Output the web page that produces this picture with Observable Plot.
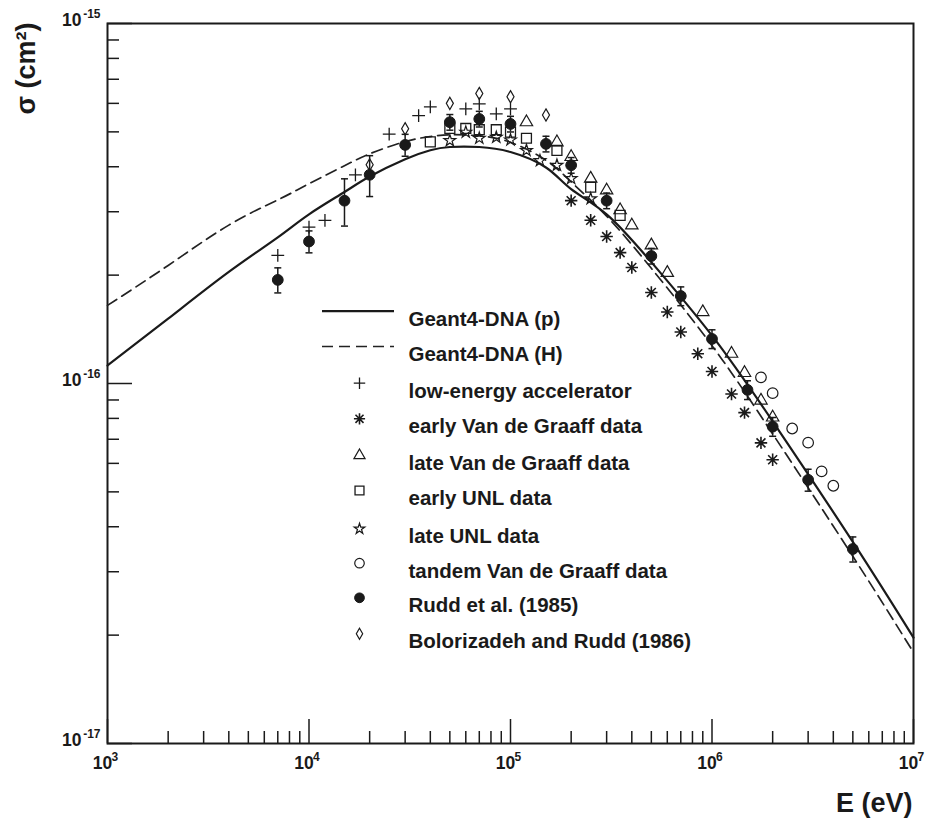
<!DOCTYPE html>
<html><head><meta charset="utf-8">
<script src="https://cdn.jsdelivr.net/npm/d3@7"></script>
<script src="https://cdn.jsdelivr.net/npm/@observablehq/plot@0.6"></script>
<style>
body{margin:0;background:#fff;}
#chart{width:927px;height:825px;}
</style></head><body><div id="chart"></div>
<script>
// ---- Model curves (Geant4-DNA) ----
const geantE = [1e3, 2e3, 4e3, 7e3, 1e4, 1.5e4, 2e4, 3e4, 4e4, 5e4, 7e4, 1e5, 1.5e5, 2e5, 3e5, 5e5, 1e6, 2e6, 5e6, 1e7];
const geantP = [1.122e-16, 1.514e-16, 2.042e-16, 2.547e-16, 2.951e-16, 3.404e-16, 3.758e-16, 4.198e-16, 4.446e-16, 4.539e-16, 4.539e-16, 4.395e-16, 3.981e-16, 3.467e-16, 2.951e-16, 2.173e-16, 1.358e-16, 7.85e-17, 3.63e-17, 1.968e-17];
const geantH = [1.648e-16, 2.128e-16, 2.754e-16, 3.236e-16, 3.589e-16, 4.027e-16, 4.345e-16, 4.699e-16, 4.853e-16, 4.909e-16, 4.875e-16, 4.677e-16, 4.169e-16, 3.631e-16, 2.917e-16, 2.089e-16, 1.274e-16, 7.244e-17, 3.311e-17, 1.791e-17];

// ---- Experimental data ----
const lowAccE = [7e3, 1e4, 1.2e4, 1.7e4, 2.5e4, 3.5e4, 4e4, 6e4, 7e4, 8.5e4, 1e5];
const lowAccS = [2.27e-16, 2.72e-16, 2.84e-16, 3.80e-16, 4.93e-16, 5.55e-16, 5.87e-16, 5.79e-16, 5.98e-16, 5.61e-16, 5.79e-16];

const earlyVdgE = [2e5, 2.5e5, 3e5, 3.5e5, 4e5, 5e5, 6e5, 7e5, 8.5e5, 1e6, 1.25e6, 1.45e6, 1.75e6, 2e6];
const earlyVdgS = [3.22e-16, 2.84e-16, 2.56e-16, 2.31e-16, 2.10e-16, 1.79e-16, 1.58e-16, 1.39e-16, 1.21e-16, 1.08e-16, 9.35e-17, 8.30e-17, 6.84e-17, 6.14e-17];

const lateVdgE = [1.2e5, 1.7e5, 2e5, 2.5e5, 3e5, 3.5e5, 4e5, 5e5, 6e5, 9e5, 1.25e6, 1.45e6, 1.75e6, 2e6];
const lateVdgS = [5.32e-16, 4.68e-16, 4.26e-16, 3.71e-16, 3.44e-16, 3.03e-16, 2.75e-16, 2.42e-16, 2.03e-16, 1.58e-16, 1.21e-16, 1.07e-16, 8.97e-17, 8.05e-17];

const earlyUnlE = [4e4, 5e4, 6e4, 7e4, 8.5e4, 1e5, 1.2e5, 1.7e5, 2.5e5, 3.5e5];
const earlyUnlS = [4.69e-16, 5.11e-16, 5.11e-16, 5.07e-16, 5.07e-16, 4.99e-16, 4.80e-16, 4.44e-16, 3.51e-16, 2.93e-16];

const lateUnlE = [5e4, 6e4, 7e4, 8.5e4, 1e5, 1.2e5, 1.4e5, 1.7e5, 2e5, 2.5e5];
const lateUnlS = [4.73e-16, 4.99e-16, 4.80e-16, 4.83e-16, 4.75e-16, 4.44e-16, 4.16e-16, 4.04e-16, 3.71e-16, 3.26e-16];

const tandemE = [1.75e6, 2e6, 2.5e6, 3e6, 3.5e6, 4e6];
const tandemS = [1.04e-16, 9.4e-17, 7.5e-17, 6.85e-17, 5.7e-17, 5.2e-17];

const ruddE = [7e3, 1e4, 1.5e4, 2e4, 3e4, 5e4, 7e4, 1e5, 1.5e5, 2e5, 3e5, 5e5, 7e5, 1e6, 1.5e6, 2e6, 3e6, 5e6];
const ruddS = [1.94e-16, 2.48e-16, 3.22e-16, 3.80e-16, 4.60e-16, 5.32e-16, 5.43e-16, 5.26e-16, 4.63e-16, 4.04e-16, 3.22e-16, 2.26e-16, 1.75e-16, 1.33e-16, 9.6e-17, 7.59e-17, 5.4e-17, 3.47e-17];
const ruddErr = [0.08, 0.07, 0.15, 0.13, 0.07, 0.05, 0.05, 0.05, 0.05, 0.05, 0.05, 0.05, 0.06, 0.06, 0.06, 0.06, 0.07, 0.08];

const boloE = [2e4, 3e4, 5e4, 7e4, 1e5, 1.5e5];
const boloS = [4.05e-16, 5.1e-16, 6.0e-16, 6.39e-16, 6.26e-16, 5.57e-16];

// ---- Labels ----
const legendLabels = ["Geant4-DNA (p)", "Geant4-DNA (H)", "low-energy accelerator", "early Van de Graaff data",
  "late Van de Graaff data", "early UNL data", "late UNL data", "tandem Van de Graaff data",
  "Rudd et al. (1985)", "Bolorizadeh and Rudd (1986)"];
const xTickExp = [3, 4, 5, 6, 7];
const yTickExp = [-17, -16, -15];
const xTitle = "E (eV)";
const yTitle = "σ (cm²)";

// ---- Build tables ----
const rows = (E, S) => E.map((e, i) => ({E: e, s: S[i]}));
const geantRows = geantE.map((e, i) => ({E: e, p: geantP[i], h: geantH[i]}));
const ruddRows = ruddE.map((e, i) => ({E: e, s: ruddS[i], lo: ruddS[i] * (1 - ruddErr[i]), hi: ruddS[i] * (1 + ruddErr[i])}));

const minorTicks = (lo, hi) => { const out = []; for (let k = lo; k < hi; k++) for (let m = 2; m <= 9; m++) out.push(m * Math.pow(10, k)); return out; };

// custom symbols
const asterisk8 = {draw(ctx, size) {
  const r = Math.sqrt(size / Math.PI), d = r * 0.72;
  ctx.moveTo(0, -r); ctx.lineTo(0, r);
  ctx.moveTo(-r, 0); ctx.lineTo(r, 0);
  ctx.moveTo(-d, -d); ctx.lineTo(d, d);
  ctx.moveTo(-d, d); ctx.lineTo(d, -d);
}};
const cap = {draw(ctx, size) { const r = Math.sqrt(size / Math.PI); ctx.moveTo(-r, 0); ctx.lineTo(r, 0); }};
const hline = {draw(ctx, size) { ctx.moveTo(-36, 0); ctx.lineTo(36, 0); }};

const W = 927, H = 825, mL = 107, mR = 14, mT = 23, mB = 82;
const pW = W - mL - mR, pH = H - mT - mB;
const ink = "#1a1a1a";

const styles = [
  {symbol: "plus", r: 4.2, fill: "none", strokeWidth: 1.3},
  {symbol: asterisk8, r: 6.2, fill: "none", strokeWidth: 1.6},
  {symbol: "triangle", r: 4.6, fill: "none", strokeWidth: 1.2},
  {symbol: "square", r: 5.6, fill: "none", strokeWidth: 1.3},
  {symbol: "star", r: 3.7, fill: "none", strokeWidth: 1.2},
  {symbol: "circle", r: 5.3, fill: "none", strokeWidth: 1.2},
  {symbol: "circle", r: 5.4, fill: ink, strokeWidth: 1},
  {symbol: "diamond", r: 3.7, fill: "none", strokeWidth: 1.2}
];
const pointSets = [rows(lowAccE, lowAccS), rows(earlyVdgE, earlyVdgS), rows(lateVdgE, lateVdgS), rows(earlyUnlE, earlyUnlS),
  rows(lateUnlE, lateUnlS), rows(tandemE, tandemS), ruddRows, rows(boloE, boloS)];

const legendRowY = [310.7, 346, 382.7, 418.3, 455, 490, 528.3, 562.7, 597.3, 633.3];
const fontFam = "'Liberation Sans', Arial, Helvetica, sans-serif";

const marks = [
  Plot.frame({stroke: ink, strokeWidth: 2}),
  // ticks (inside)
  Plot.ruleX(minorTicks(3, 7), {x: d => d, insetTop: pH - 12, stroke: ink, strokeWidth: 1.5}),
  Plot.ruleX(xTickExp.map(k => Math.pow(10, k)), {x: d => d, insetTop: pH - 24, stroke: ink, strokeWidth: 1.5}),
  Plot.ruleY(minorTicks(-17, -15), {y: d => d, insetRight: pW - 12, stroke: ink, strokeWidth: 1.5}),
  Plot.ruleY(yTickExp.map(k => Math.pow(10, k)), {y: d => d, insetRight: pW - 25, stroke: ink, strokeWidth: 1.5}),
  // tick labels
  Plot.text(xTickExp, {x: k => Math.pow(10, k), text: () => "10", frameAnchor: "bottom", dy: 25, dx: -5, fontSize: 17.5, fontWeight: "bold", fill: ink}),
  Plot.text(xTickExp, {x: k => Math.pow(10, k), text: k => String(k), frameAnchor: "bottom", dy: 17, dx: 4, textAnchor: "start", fontSize: 12, fontWeight: "bold", fill: ink}),
  Plot.text(yTickExp, {y: k => Math.pow(10, k), text: () => "10", frameAnchor: "left", dy: -3, dx: -26, textAnchor: "end", fontSize: 17.5, fontWeight: "bold", fill: ink}),
  Plot.text(yTickExp, {y: k => Math.pow(10, k), text: k => String(k), frameAnchor: "left", dy: -9, dx: -7, textAnchor: "end", fontSize: 12, fontWeight: "bold", fill: ink}),
  // axis titles
  Plot.text([xTitle], {text: d => d, frameAnchor: "bottom-right", dx: -1, dy: 68, textAnchor: "end", fontSize: 27, fontWeight: "bold", fill: ink}),
  Plot.text([yTitle], {text: d => d, frameAnchor: "top-left", dx: -92, dy: 45, rotate: -90, textAnchor: "middle", fontSize: 27, fontWeight: "bold", fill: ink}),
  // curves
  Plot.line(geantRows, {x: "E", y: "h", curve: "natural", stroke: "#222", strokeWidth: 1.7, strokeDasharray: "11,6"}),
  Plot.line(geantRows, {x: "E", y: "p", curve: "natural", stroke: ink, strokeWidth: 2.2}),
  // Rudd error bars
  Plot.ruleX(ruddRows, {x: "E", y1: "lo", y2: "hi", stroke: ink, strokeWidth: 1.5}),
  Plot.dot(ruddRows, {x: "E", y: "lo", symbol: cap, r: 3.5, stroke: ink, strokeWidth: 1.5}),
  Plot.dot(ruddRows, {x: "E", y: "hi", symbol: cap, r: 3.5, stroke: ink, strokeWidth: 1.5})
];
pointSets.forEach((data, i) => {
  const st = styles[i];
  marks.push(Plot.dot(data, {x: "E", y: "s", symbol: st.symbol, r: st.r, fill: st.fill, stroke: ink, strokeWidth: st.strokeWidth}));
});
// legend
legendLabels.forEach((label, i) => {
  const dy = legendRowY[i] - mT;
  marks.push(Plot.text([label], {text: d => d, frameAnchor: "top-left", dx: 408 - mL, dy, textAnchor: "start", fontSize: 20.5, fontWeight: "bold", fill: ink}));
  if (i < 2) {
    marks.push(Plot.dot([0], {frameAnchor: "top-left", dx: 357.5 - mL, dy, symbol: hline, r: 5, stroke: i === 0 ? ink : "#222",
      strokeWidth: i === 0 ? 2.2 : 1.7, strokeDasharray: i === 0 ? null : "11,6", fill: "none"}));
  } else {
    const st = styles[i - 2];
    marks.push(Plot.dot([0], {frameAnchor: "top-left", dx: 359 - mL, dy, symbol: st.symbol, r: st.r * 0.9, fill: st.fill, stroke: ink, strokeWidth: st.strokeWidth}));
  }
});

const chart = Plot.plot({
  width: W, height: H,
  marginLeft: mL, marginRight: mR, marginTop: mT, marginBottom: mB,
  x: {type: "log", domain: [1e3, 1e7], axis: null},
  y: {type: "log", domain: [1e-17, 1e-15], axis: null},
  style: {fontFamily: fontFam, background: "white", color: ink},
  marks
});
document.getElementById("chart").appendChild(chart);
</script>
</body></html>
